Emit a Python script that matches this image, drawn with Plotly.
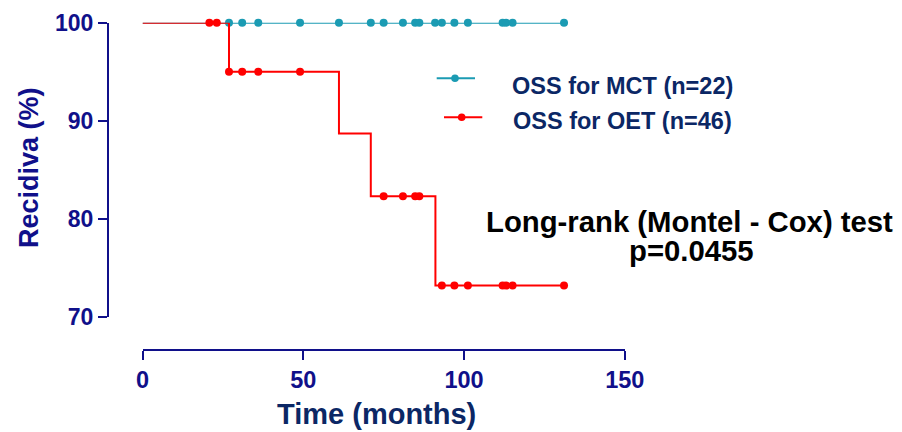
import plotly.graph_objects as go

# ---- data ----
time_ticks = [0, 50, 100, 150]
surv_ticks = [70, 80, 90, 100]

# MCT: no events, all censored at 100 %
mct_step_t = [0, 131.1]
mct_step_s = [100, 100]
mct_cens_t = [26.9, 31.0, 36.0, 49.0, 61.1, 71.0, 75.0, 81.0, 84.8, 86.1,
              91.0, 93.1, 97.0, 101.2, 112.0, 113.1, 115.1, 131.1]
mct_cens_s = [100] * len(mct_cens_t)

# OET: step curve
oet_step_t = [0, 26.9, 61.1, 71.0, 91.1, 131.1]
oet_step_s = [100, 95.0, 88.7, 82.3, 73.2, 73.2]
oet_cens_t = [20.8, 23.1,
              26.9, 31.0, 36.0, 49.0,
              75.0, 81.0, 84.8, 86.1,
              93.1, 97.0, 101.2, 112.0, 113.1, 115.1, 131.1]
oet_cens_s = [100, 100,
              95.0, 95.0, 95.0, 95.0,
              82.3, 82.3, 82.3, 82.3,
              73.2, 73.2, 73.2, 73.2, 73.2, 73.2, 73.2]

series_names = ["OSS for MCT (n=22)", "OSS for OET (n=46)"]
test_text = ["Long-rank (Montel - Cox) test", "p=0.0455"]

TEAL = "#1b9bb3"
RED = "#ff0000"
NAVY = "#10108a"
DARKNAVY = "#0b2765"
FONT = "Liberation Sans, Arial, sans-serif"

W, H = 902, 432
def px(x):
    return x / W
def py(y):
    return 1 - y / H

fig = go.Figure()
fig.add_trace(go.Scatter(x=mct_step_t, y=mct_step_s, mode="lines", line_shape="hv",
                         line=dict(color=TEAL, width=2), showlegend=False, cliponaxis=False))
fig.add_trace(go.Scatter(x=mct_cens_t, y=mct_cens_s, mode="markers",
                         marker=dict(color=TEAL, size=8), showlegend=False, cliponaxis=False))
fig.add_trace(go.Scatter(x=oet_step_t, y=oet_step_s, mode="lines", line_shape="hv",
                         line=dict(color=RED, width=2), showlegend=False, cliponaxis=False))
fig.add_trace(go.Scatter(x=oet_cens_t, y=oet_cens_s, mode="markers",
                         marker=dict(color=RED, size=8), showlegend=False, cliponaxis=False))

fig.update_layout(
    width=W, height=H, autosize=False,
    margin=dict(l=0, r=0, t=0, b=0),
    paper_bgcolor="white", plot_bgcolor="white",
    showlegend=False,
    xaxis=dict(
        domain=[px(142.5), px(624.8)], range=[0, 150],
        anchor="free", position=py(350),
        showline=True, linecolor=NAVY, linewidth=2,
        ticks="outside", ticklen=9, tickwidth=2, tickcolor=NAVY,
        tickvals=time_ticks, showgrid=False, zeroline=False,
        tickfont=dict(family=FONT, size=23.5, color=NAVY, weight="bold"),
        automargin=False,
    ),
    yaxis=dict(
        domain=[py(317), py(22.7)], range=[70, 100],
        anchor="free", position=px(108),
        showline=True, linecolor=NAVY, linewidth=2,
        ticks="outside", ticklen=9, tickwidth=2, tickcolor=NAVY,
        tickvals=surv_ticks, showgrid=False, zeroline=False,
        tickfont=dict(family=FONT, size=23, color=NAVY, weight="bold"),
        automargin=False,
    ),
)

anns = []
# axis titles
anns.append(dict(text="Time (months)", xref="paper", yref="paper", x=px(376), y=py(414),
                 xanchor="center", yanchor="middle", showarrow=False,
                 font=dict(family=FONT, size=29, color=DARKNAVY, weight="bold")))
anns.append(dict(text="Recidiva (%)", xref="paper", yref="paper", x=px(29), y=py(168),
                 xanchor="center", yanchor="middle", showarrow=False, textangle=-90,
                 font=dict(family=FONT, size=27, color=NAVY, weight="bold")))
# legend texts
anns.append(dict(text=series_names[0], xref="paper", yref="paper", x=px(510), y=py(86),
                 xanchor="left", yanchor="middle", showarrow=False,
                 font=dict(family=FONT, size=23.5, color=DARKNAVY, weight="bold")))
anns.append(dict(text=series_names[1], xref="paper", yref="paper", x=px(511), y=py(121),
                 xanchor="left", yanchor="middle", showarrow=False,
                 font=dict(family=FONT, size=23.5, color=DARKNAVY, weight="bold")))
# test result
anns.append(dict(text=test_text[0], xref="paper", yref="paper", x=px(689), y=py(221),
                 xanchor="center", yanchor="middle", showarrow=False,
                 font=dict(family=FONT, size=29.3, color="black", weight="bold")))
anns.append(dict(text=test_text[1], xref="paper", yref="paper", x=px(691), y=py(250),
                 xanchor="center", yanchor="middle", showarrow=False,
                 font=dict(family=FONT, size=29.3, color="black", weight="bold")))
fig.update_layout(annotations=anns)

# legend symbols
r = 3.8
shapes = [
    dict(type="line", xref="paper", yref="paper", x0=px(436.7), x1=px(475), y0=py(78.3), y1=py(78.3),
         line=dict(color=TEAL, width=2)),
    dict(type="circle", xref="paper", yref="paper", x0=px(455 - r), x1=px(455 + r),
         y0=py(78.3 + r), y1=py(78.3 - r), fillcolor=TEAL, line=dict(width=0)),
    dict(type="line", xref="paper", yref="paper", x0=px(444), x1=px(482.3), y0=py(117.3), y1=py(117.3),
         line=dict(color=RED, width=2)),
    dict(type="circle", xref="paper", yref="paper", x0=px(461.7 - r), x1=px(461.7 + r),
         y0=py(117.3 + r), y1=py(117.3 - r), fillcolor=RED, line=dict(width=0)),
]
fig.update_layout(shapes=shapes)

fig.write_html("out.html")
